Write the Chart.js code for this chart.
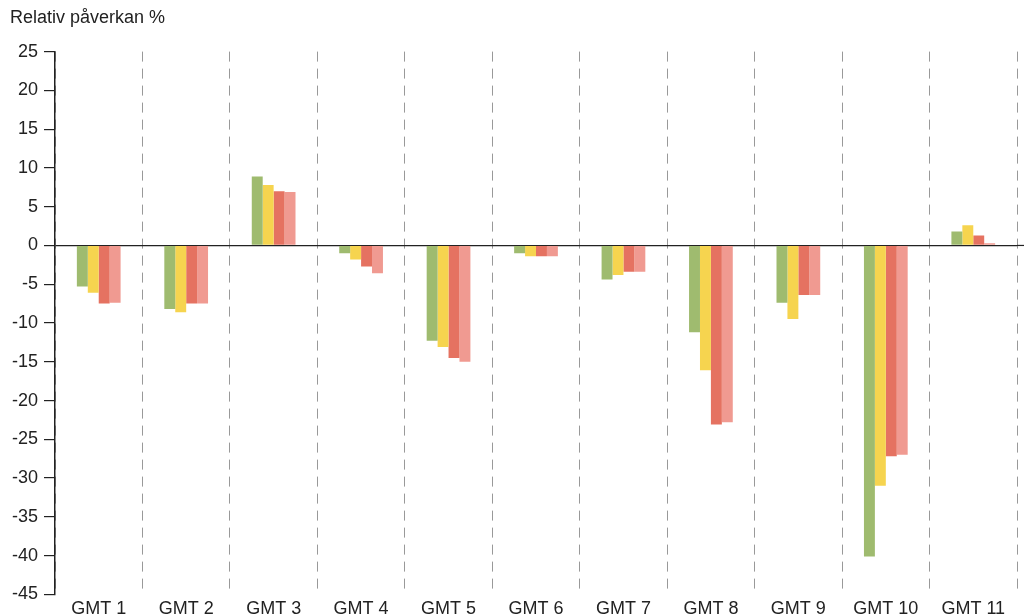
<!DOCTYPE html>
<html><head><meta charset="utf-8">
<script src="https://cdn.jsdelivr.net/npm/chart.js@4"></script>
<style>html,body{margin:0;padding:0;background:#fff}#wrap{width:1024px;height:616px}</style>
</head><body><div id="wrap"><canvas id="c" width="1024" height="616"></canvas></div>
<script>
const categories = ["GMT 1","GMT 2","GMT 3","GMT 4","GMT 5","GMT 6","GMT 7","GMT 8","GMT 9","GMT 10","GMT 11"];
const seriesA = [-5.3, -8.2, 8.9, -1.0, -12.3, -1.0, -4.4, -11.2, -7.4, -40.1, 1.8];
const seriesB = [-6.1, -8.6, 7.8, -1.8, -13.1, -1.4, -3.8, -16.1, -9.5, -31.0, 2.6];
const seriesC = [-7.5, -7.5, 7.0, -2.7, -14.5, -1.4, -3.4, -23.1, -6.4, -27.2, 1.3];
const seriesD = [-7.4, -7.5, 6.9, -3.6, -15.0, -1.4, -3.4, -22.8, -6.4, -27.0, 0.3];
const yMin = -45, yMax = 25, yStep = 5;
const yTitle = "Relativ påverkan %";

const FONT = "'Liberation Sans', Arial, sans-serif";
const zeroExtend = {
  id: 'zeroExtend',
  afterDraw(chart) {
    const y = chart.scales.y.getPixelForValue(0);
    const ctx = chart.ctx;
    ctx.save();
    ctx.strokeStyle = '#222';
    ctx.lineWidth = 1.2;
    ctx.beginPath();
    ctx.moveTo(chart.chartArea.right, y);
    ctx.lineTo(chart.width, y);
    ctx.stroke();
    ctx.restore();
  }
};
new Chart(document.getElementById('c'), {
  type: 'bar',
  data: {
    labels: categories,
    datasets: [
      {data: seriesA, backgroundColor: '#9fbb6f'},
      {data: seriesB, backgroundColor: '#f6d44f'},
      {data: seriesC, backgroundColor: '#e57261'},
      {data: seriesD, backgroundColor: '#f09a91'}
    ]
  },
  options: {
    responsive: false,
    animation: false,
    layout: {padding: {left: 10, right: 7, top: 0, bottom: -8}},
    datasets: {bar: {categoryPercentage: 0.5, barPercentage: 1.0}},
    plugins: {
      legend: {display: false},
      tooltip: {enabled: false},
      title: {display: true, text: yTitle, align: 'start', color: '#222',
        font: {family: FONT, size: 18, weight: 'normal'}, padding: {top: 7, bottom: 23}}
    },
    scales: {
      x: {
        offset: true,
        grid: {offset: true, color: '#999', lineWidth: 1, drawTicks: false},
        border: {display: false, dash: [10, 7]},
        ticks: {color: '#222', font: {family: FONT, size: 18}, padding: 4, maxRotation: 0}
      },
      y: {
        min: yMin, max: yMax,
        afterFit: s => { s.width = 45; },
        grid: {color: c => c.tick && c.tick.value === 0 ? '#222' : 'rgba(0,0,0,0)',
               lineWidth: 1.2,
               tickColor: '#222', tickWidth: 1.2, tickLength: 11, drawTicks: true},
        border: {display: true, color: '#222', width: 1.5},
        ticks: {stepSize: yStep, color: '#222', font: {family: FONT, size: 18}, padding: 6}
      }
    }
  },
  plugins: [zeroExtend]
});
</script></body></html>
